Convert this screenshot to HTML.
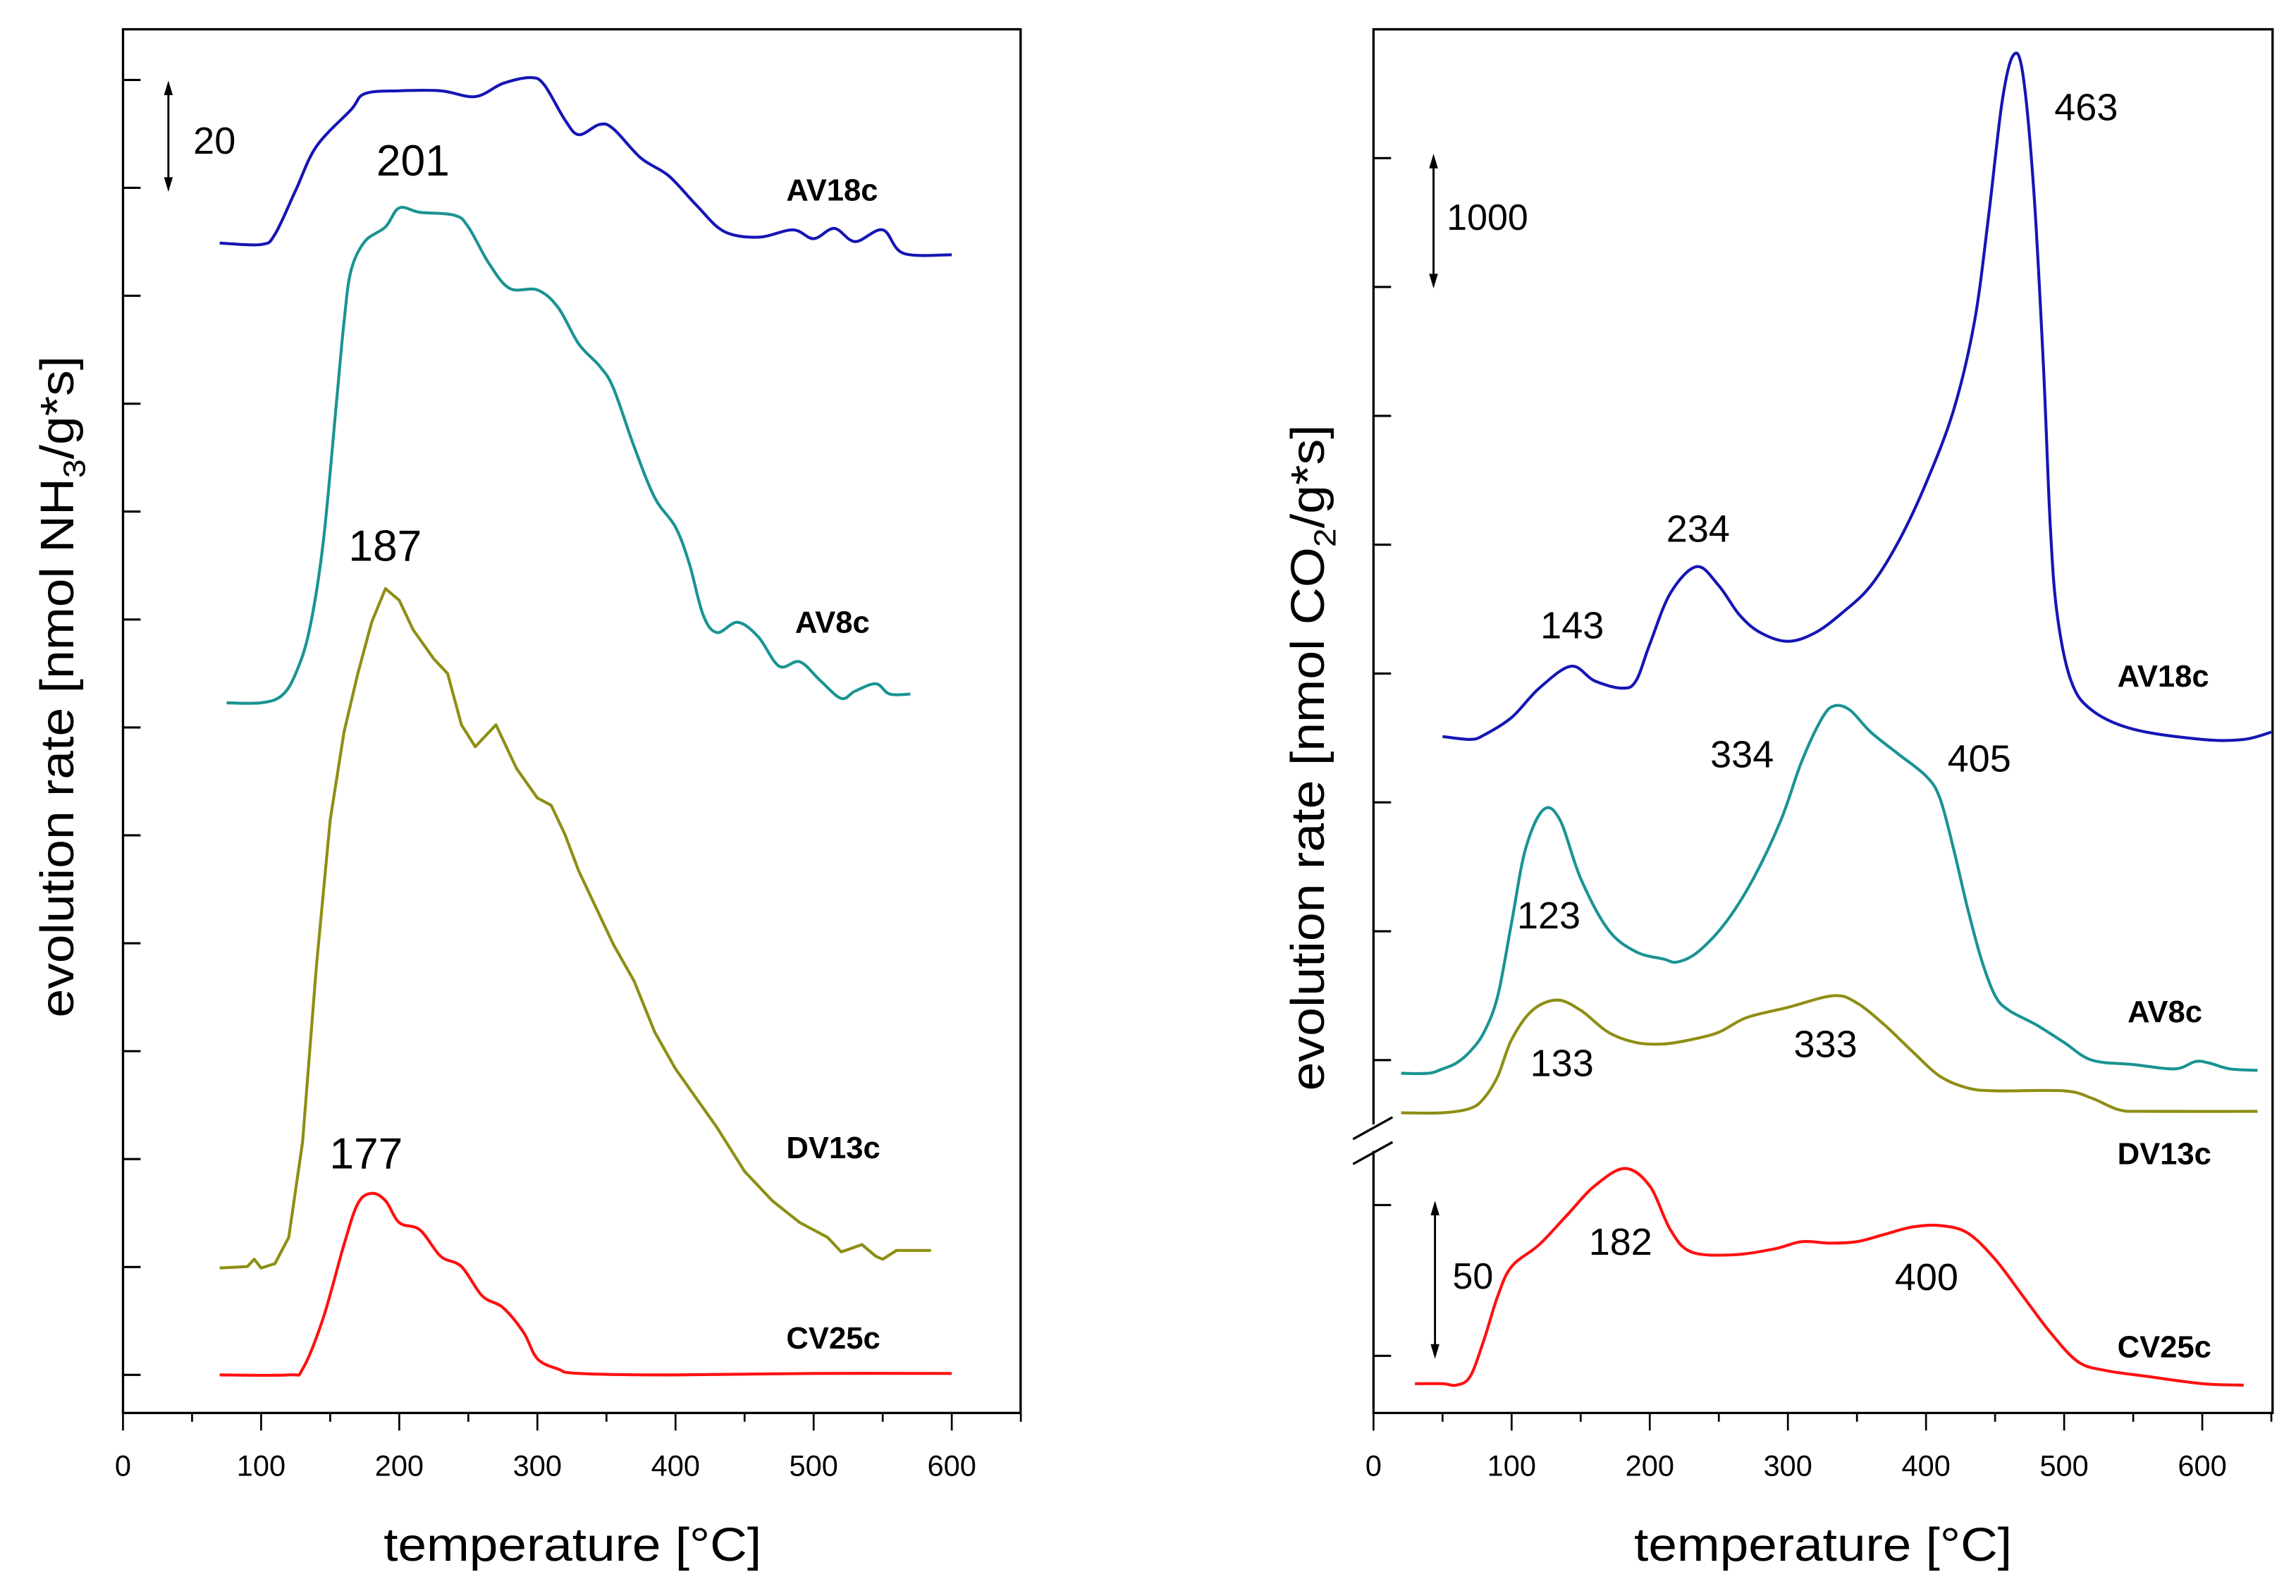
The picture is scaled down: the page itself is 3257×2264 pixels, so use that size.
<!DOCTYPE html>
<html><head><meta charset="utf-8"><style>
html,body{margin:0;padding:0;background:#fff;}
svg{display:block;font-family:"Liberation Sans",Arial,sans-serif;}
</style></head><body>
<svg id="chart" width="3257" height="2264" viewBox="0 0 1568 1090" preserveAspectRatio="none" xmlns="http://www.w3.org/2000/svg">
<g id="left"></g>
<g id="right"></g>
</svg>
<script>
// ---------- data: left panel (NH3), values = signal height units ----------
const xTicks = [0,100,200,300,400,500,600];
const L_AV18c_T = [70,100,110,125,140,165,175,200,230,255,275,295,305,320,330,345,355,375,395,415,435,460,485,500,515,530,550,565,600];
const L_AV18c_V = [773,772,779,809,839,864,875,877,877,873,882,886,881,857,847,854,851,831,819,799,781,777,782,776,783,774,782,766,765];
const L_AV8c_T = [75,100,115,125,135,145,155,160,165,175,190,200,215,240,250,265,280,300,315,330,345,355,370,385,400,410,420,430,445,460,475,490,505,520,530,545,555,570];
const L_AV8c_V = [459,459,464,479,509,569,669,719,754,774,784,797,794,792,784,759,742,741,729,704,689,674,634,599,579,554,519,507,514,504,484,487,474,462,467,472,465,465];
const L_DV13c_T = [70,90,95,100,110,120,130,140,150,160,170,180,190,200,210,225,235,245,255,270,285,300,310,320,330,345,355,370,385,400,415,430,450,470,490,510,520,535,545,550,560,585];
const L_DV13c_V = [73,74,79,73,76,94,159,279,379,439,479,514,537,529,509,489,479,444,429,444,414,394,389,369,344,314,294,269,234,209,189,169,139,119,104,94,84,89,81,79,85,85];
const L_CV25c_T = [70,120,130,145,160,170,180,190,200,215,230,245,260,275,290,300,315,330,400,500,600];
const L_CV25c_V = [0,0,4,39,89,117,124,119,104,99,81,74,54,46,29,11,4,1,0,1,1];
// ---------- data: right panel (CO2) ----------
const R_AV18c_T = [50,70,80,100,120,143,160,180,190,200,215,234,250,265,280,300,320,340,360,380,400,420,435,445,455,463,470,478,485,490,495,505,520,550,600,630,650];
const R_AV18c_V = [221,219,222,234,254,269,259,254,259,284,319,337,324,304,292,286,292,306,324,354,394,444,504,574,654,686,674,594,474,364,304,259,239,226,219,219,224];
const R_AV8c_T = [20,40,50,60,70,80,90,100,110,123,135,150,170,190,210,220,235,255,275,295,310,325,334,345,360,380,400,410,420,430,440,450,460,480,500,520,550,580,595,605,620,640];
const R_AV8c_V = [-9,-9,-6,-2,6,19,44,94,144,171,164,124,89,74,69,67,74,94,124,164,204,234,242,239,224,209,194,179,144,104,69,44,34,24,12,0,-3,-6,-1,-2,-6,-7];
const R_DV13c_T = [20,50,70,80,90,100,115,133,150,170,190,210,230,250,270,300,333,350,370,390,410,430,450,500,520,540,560,640];
const R_DV13c_V = [-36,-36,-33,-26,-11,14,34,41,34,19,12,11,14,19,29,36,44,39,24,6,-11,-19,-21,-21,-26,-34,-35,-35];
const R_CV25c_T = [30,50,60,70,80,90,100,120,140,160,182,200,215,230,260,290,310,330,350,370,390,410,430,450,470,490,510,530,560,600,630];
const R_CV25c_V = [1,1,0,6,31,61,81,96,116,136,148,136,106,91,89,93,98,97,98,103,108,109,104,86,61,36,16,10,6,1,0];
const leftYTicks = [0,73.7,147.4,221.1,294.8,368.5,442.2,515.9,589.6,663.3,737,810.7,884.4];
const rightUpperYTicks = [0,88,176,264,352,440,528,616];
const rightLowerYTicks = [20,123];

const NS="http://www.w3.org/2000/svg";
function mk(parent,tag,attrs,text){const e=document.createElementNS(NS,tag);for(const k in attrs)e.setAttribute(k,attrs[k]);if(text!==undefined)e.textContent=text;parent.appendChild(e);return e;}
function smoothPath(pts){let d="M"+pts[0][0].toFixed(2)+","+pts[0][1].toFixed(2);
 for(let i=0;i<pts.length-1;i++){const p0=pts[i-1]||pts[i],p1=pts[i],p2=pts[i+1],p3=pts[i+2]||p2;
  const c1=[p1[0]+(p2[0]-p0[0])/6,p1[1]+(p2[1]-p0[1])/6],c2=[p2[0]-(p3[0]-p1[0])/6,p2[1]-(p3[1]-p1[1])/6];
  d+=" C"+c1[0].toFixed(2)+","+c1[1].toFixed(2)+" "+c2[0].toFixed(2)+","+c2[1].toFixed(2)+" "+p2[0].toFixed(2)+","+p2[1].toFixed(2);}
 return d;}
function linPath(pts){return "M"+pts.map(p=>p[0].toFixed(2)+","+p[1].toFixed(2)).join(" L");}

const L=document.getElementById('left'), R=document.getElementById('right');
const xL=t=>84+t*566/600, yL=v=>939-v;
const xR=t=>938+t*566/600, yRu=v=>724-v, yRl=v=>946-v;
const TOP=20,BOT=965;

// ---- left frame ----
let e;
e=mk(L,'rect',{x:84,y:TOP,width:613,height:BOT-TOP,fill:'none',stroke:'#000','stroke-width':1.6});


for(let t=0;t<=650;t+=50){e=mk(L,'line',{x1:xL(t),x2:xL(t),y1:BOT,y2:BOT+(t%100===0?12:6),stroke:'#000','stroke-width':1.3});
 
 }
xTicks.forEach(t=>{e=mk(L,'text',{x:xL(t),y:1008,'font-size':20,'text-anchor':'middle'},String(t));
 
 });
leftYTicks.forEach(v=>{e=mk(L,'line',{x1:84,x2:96,y1:yL(v),y2:yL(v),stroke:'#000','stroke-width':1.5});
 
 });
e=mk(L,'text',{x:262,y:1066,'font-size':32,textLength:258,lengthAdjust:'spacingAndGlyphs'},'temperature [°C]');


e=mk(L,'text',{x:0,y:0,'font-size':32,textLength:452,lengthAdjust:'spacingAndGlyphs',transform:'translate(50,695) rotate(-90)'});


e.innerHTML='evolution rate [nmol NH<tspan font-size="21" dy="8">3</tspan><tspan dy="-8">/g*s]</tspan>';

function series(g,T,V,xf,yf,color,name,smooth){const pts=T.map((t,i)=>[xf(t),yf(V[i])]);
 const p=mk(g,'path',{d:smooth?smoothPath(pts):linPath(pts),fill:'none',stroke:color,'stroke-width':2,'stroke-linejoin':'round'});
 
 }
const BLUE='#1515b5',TEAL='#1a9393',OLIVE='#8e8e14',RED='#ff1010';
series(L,L_AV18c_T,L_AV18c_V,xL,yL,BLUE,'left-av18c-line',true);
series(L,L_AV8c_T,L_AV8c_V,xL,yL,TEAL,'left-av8c-line',true);
series(L,L_DV13c_T,L_DV13c_V,xL,yL,OLIVE,'left-dv13c-line',false);
series(L,L_CV25c_T,L_CV25c_V,xL,yL,RED,'left-cv25c-line',true);

function txt(g,x,y,s,size,name,bold){const t=mk(g,'text',{x:x,y:y,'font-size':size,'font-weight':bold?'bold':'normal'},s);
 
 }
function arrow(g,x,y1,y2,name){const a=mk(g,'g',{});
 
 
 mk(a,'line',{x1:x,x2:x,y1:y1+8,y2:y2-8,stroke:'#000','stroke-width':1.4});
 mk(a,'path',{d:`M${x-3},${y1+10} L${x},${y1} L${x+3},${y1+10}Z`,fill:'#000'});
 mk(a,'path',{d:`M${x-3},${y2-10} L${x},${y2} L${x+3},${y2-10}Z`,fill:'#000'});}
arrow(L,115,55,131,'left-scale-arrow');
txt(L,132,105,'20',26,'left-scale-label');
txt(L,257,120,'201',30,'peak-label-201');
txt(L,238,383,'187',30,'peak-label-187');
txt(L,225,798,'177',30,'peak-label-177');
txt(L,537,137,'AV18c',21,'left-label-av18c',true);
txt(L,543,432,'AV8c',21,'left-label-av8c',true);
txt(L,537,791,'DV13c',21,'left-label-dv13c',true);
txt(L,537,921,'CV25c',21,'left-label-cv25c',true);

// ---- right frame ----
e=mk(R,'path',{d:`M938,768 L938,${TOP} L1552,${TOP} L1552,${BOT} L938,${BOT} L938,786`,fill:'none',stroke:'#000','stroke-width':1.6});


e=mk(R,'g',{});


mk(e,'line',{x1:924,y1:778,x2:951,y2:763,stroke:'#000','stroke-width':1.6});
mk(e,'line',{x1:924,y1:795,x2:951,y2:780,stroke:'#000','stroke-width':1.6});
for(let t=0;t<=650;t+=50){e=mk(R,'line',{x1:xR(t),x2:xR(t),y1:BOT,y2:BOT+(t%100===0?12:6),stroke:'#000','stroke-width':1.3});
 
 }
xTicks.forEach(t=>{e=mk(R,'text',{x:xR(t),y:1008,'font-size':20,'text-anchor':'middle'},String(t));
 
 });
rightUpperYTicks.forEach(v=>{e=mk(R,'line',{x1:938,x2:950,y1:yRu(v),y2:yRu(v),stroke:'#000','stroke-width':1.5});
 
 });
rightLowerYTicks.forEach(v=>{e=mk(R,'line',{x1:938,x2:950,y1:yRl(v),y2:yRl(v),stroke:'#000','stroke-width':1.5});
 
 });
e=mk(R,'text',{x:1116,y:1066,'font-size':32,textLength:258,lengthAdjust:'spacingAndGlyphs'},'temperature [°C]');


e=mk(R,'text',{x:0,y:0,'font-size':32,textLength:455,lengthAdjust:'spacingAndGlyphs',transform:'translate(904,745) rotate(-90)'});


e.innerHTML='evolution rate [nmol CO<tspan font-size="21" dy="8">2</tspan><tspan dy="-8">/g*s]</tspan>';

series(R,R_AV18c_T,R_AV18c_V,xR,yRu,BLUE,'right-av18c-line',true);
series(R,R_AV8c_T,R_AV8c_V,xR,yRu,TEAL,'right-av8c-line',true);
series(R,R_DV13c_T,R_DV13c_V,xR,yRu,OLIVE,'right-dv13c-line',true);
series(R,R_CV25c_T,R_CV25c_V,xR,yRl,RED,'right-cv25c-line',true);

arrow(R,979,105,197,'right-upper-scale-arrow');
txt(R,988,157,'1000',25,'right-upper-scale-label');
arrow(R,980,820,928,'right-lower-scale-arrow');
txt(R,992,880,'50',25,'right-lower-scale-label');
txt(R,1403,82,'463',26,'peak-label-463');
txt(R,1138,370,'234',26,'peak-label-234');
txt(R,1052,436,'143',26,'peak-label-143');
txt(R,1168,524,'334',26,'peak-label-334');
txt(R,1330,527,'405',26,'peak-label-405');
txt(R,1036,634,'123',26,'peak-label-123');
txt(R,1045,735,'133',26,'peak-label-133');
txt(R,1225,722,'333',26,'peak-label-333');
txt(R,1085,857,'182',26,'peak-label-182');
txt(R,1294,881,'400',26,'peak-label-400');
txt(R,1446,469,'AV18c',21,'right-label-av18c',true);
txt(R,1453,698,'AV8c',21,'right-label-av8c',true);
txt(R,1446,795,'DV13c',21,'right-label-dv13c',true);
txt(R,1446,927,'CV25c',21,'right-label-cv25c',true);
</script>
</body></html>
